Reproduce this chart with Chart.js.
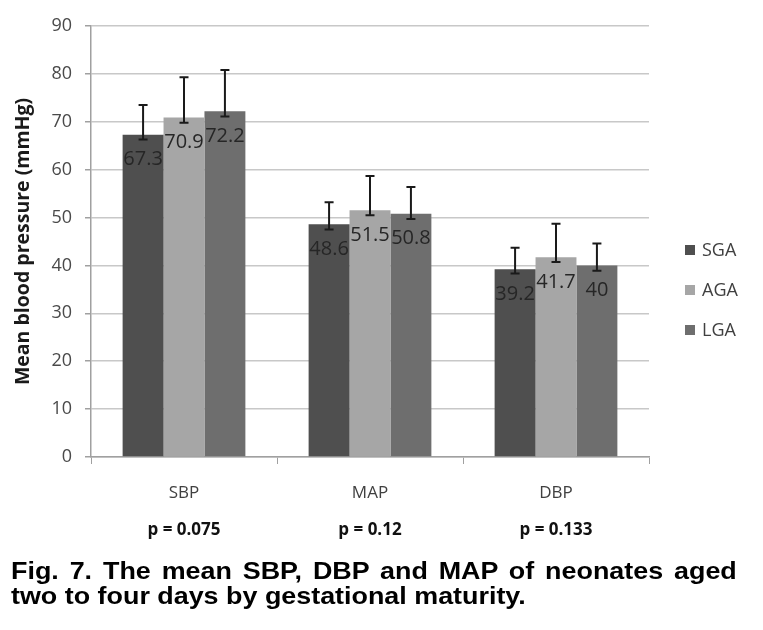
<!DOCTYPE html>
<html>
<head>
<meta charset="utf-8">
<script src="https://cdn.jsdelivr.net/npm/chart.js@4.4.1/dist/chart.umd.min.js"></script>
<style>
  html, body { margin: 0; padding: 0; background: #fff; }
  #wrap { position: relative; width: 763px; height: 630px; }
  #chart { position: absolute; left: 0; top: 0; }
  .cap {
    position: absolute; left: 11px;
    font-family: "Liberation Sans", Arial, sans-serif; font-weight: bold;
    font-size: 24px; line-height: 25px; color: #000; white-space: nowrap;
    transform: scaleX(1.12); transform-origin: 0 0;
  }
  #cap1 { top: 558px; width: 648px; text-align: justify; text-align-last: justify; white-space: normal; }
  #cap2 { top: 583px; }
</style>
</head>
<body>
<div id="wrap">
  <canvas id="chart" width="763" height="630"></canvas>
  <div class="cap" id="cap1">Fig. 7. The mean SBP, DBP and MAP of neonates aged</div>
  <div class="cap" id="cap2">two to four days by gestational maturity.</div>
</div>
<script>
const categories = ['SBP', 'MAP', 'DBP'];
const pValues = ['p = 0.075', 'p = 0.12', 'p = 0.133'];
const groups = ['SGA', 'AGA', 'LGA'];
const colors = ['#4f4f4f', '#a6a6a6', '#6e6e6e'];

const sga = [67.3, 48.6, 39.2];
const aga = [70.9, 51.5, 41.7];
const lga = [72.2, 50.8, 40];

// error bar ends
const sgaUpper = [73.5, 53.2, 43.7];
const sgaLower = [66.3, 47.5, 38.3];
const agaUpper = [79.3, 58.7, 48.7];
const agaLower = [69.8, 50.5, 40.7];
const lgaUpper = [80.8, 56.4, 44.6];
const lgaLower = [71.1, 49.7, 38.9];

const yTicks = [0, 10, 20, 30, 40, 50, 60, 70, 80, 90];

const font = '"Open Sans", "Noto Sans", sans-serif';

const series = [sga, aga, lga];
const uppers = [sgaUpper, agaUpper, lgaUpper];
const lowers = [sgaLower, agaLower, lgaLower];

const labelsAndErrors = {
    id: 'labelsAndErrors',
    afterDatasetsDraw(chart) {
        const ctx = chart.ctx;
        const y = chart.scales.y;
        ctx.save();
        chart.data.datasets.forEach((ds, di) => {
            const meta = chart.getDatasetMeta(di);
            meta.data.forEach((bar, i) => {
                // value label inside the bar
                ctx.fillStyle = '#262626';
                ctx.font = '20px ' + font;
                ctx.textAlign = 'center';
                ctx.textBaseline = 'middle';
                ctx.fillText(String(ds.data[i]), bar.x, bar.y + 25);

                // error bar
                const top = y.getPixelForValue(uppers[di][i]);
                const bot = y.getPixelForValue(lowers[di][i]);
                ctx.strokeStyle = '#1a1a1a';
                ctx.lineWidth = 2;
                ctx.beginPath();
                ctx.moveTo(bar.x, top); ctx.lineTo(bar.x, bot);
                ctx.moveTo(bar.x - 4.5, top); ctx.lineTo(bar.x + 4.5, top);
                ctx.moveTo(bar.x - 4.5, bot); ctx.lineTo(bar.x + 4.5, bot);
                ctx.stroke();
            });
        });
        ctx.restore();
    },
    afterDraw(chart) {
        const ctx = chart.ctx;
        const x = chart.scales.x;
        ctx.save();
        // p-values under the category names
        ctx.fillStyle = '#111';
        ctx.font = 'bold 17px ' + font;
        ctx.textAlign = 'center';
        ctx.textBaseline = 'middle';
        pValues.forEach((p, i) => ctx.fillText(p, x.getPixelForValue(i), 530));

        // legend
        const area = chart.chartArea;
        ctx.font = '18px ' + font;
        ctx.textAlign = 'left';
        groups.forEach((g, i) => {
            const cy = 250 + i * 40;
            ctx.fillStyle = colors[i];
            ctx.fillRect(area.right + 36, cy - 5, 10, 10);
            ctx.fillStyle = '#404040';
            ctx.fillText(g, area.right + 53, cy + 1);
        });
        ctx.restore();
    }
};

new Chart(document.getElementById('chart'), {
    type: 'bar',
    data: {
        labels: categories,
        datasets: groups.map((g, i) => ({
            label: g,
            data: series[i],
            backgroundColor: colors[i],
            borderWidth: 0,
            categoryPercentage: 0.66,
            barPercentage: 1.0
        }))
    },
    options: {
        responsive: false,
        animation: false,
        layout: { padding: { top: 26, right: 114, left: 0, bottom: 0 } },
        plugins: { legend: { display: false }, tooltip: { enabled: false } },
        scales: {
            x: {
                afterFit: (s) => { s.height = 173; },
                grid: { drawOnChartArea: false, drawTicks: true, tickLength: 7, tickColor: '#a0a0a0', offset: true },
                border: { color: '#a0a0a0', width: 1.5 },
                ticks: { color: '#404040', font: { family: font, size: 17 }, padding: 19 }
            },
            y: {
                min: 0, max: 90,
                afterFit: (s) => { s.width = 91; },
                afterBuildTicks: (s) => { s.ticks = yTicks.map(v => ({ value: v })); },
                grid: { color: '#c8c8c8', lineWidth: 1.5, tickLength: 6, tickColor: '#a0a0a0' },
                border: { color: '#a0a0a0', width: 1.5 },
                ticks: { color: '#4a4a4a', font: { family: font, size: 18 }, padding: 13 },
                title: {
                    display: true, text: 'Mean blood pressure (mmHg)',
                    color: '#1a1a1a', font: { family: font, size: 19.5, weight: 'bold' },
                    padding: { top: 12, bottom: 0 }
                }
            }
        }
    },
    plugins: [labelsAndErrors]
});
</script>
</body>
</html>
